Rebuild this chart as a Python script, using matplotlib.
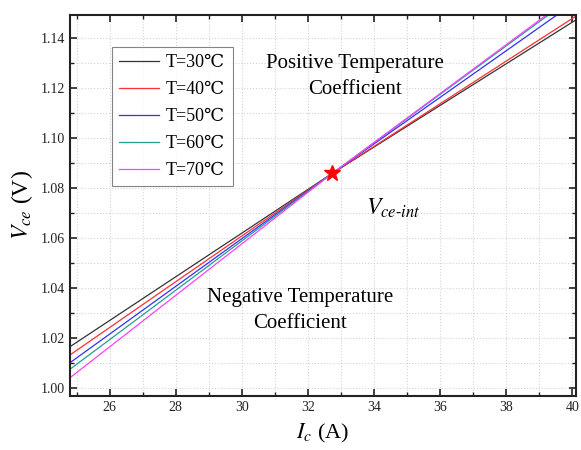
import matplotlib
matplotlib.use("Agg")
import matplotlib.pyplot as plt
from matplotlib.ticker import MultipleLocator

plt.rcParams['font.family'] = ['Liberation Serif', 'DejaVu Serif']
plt.rcParams['mathtext.fontset'] = 'stix'

# collector current (A) and Vce (V)
ic = [24.8, 32.74, 40.1]
vce_30 = [1.0165, 1.0858, 1.1470]
vce_40 = [1.0132, 1.0858, 1.1485]
vce_50 = [1.0101, 1.0858, 1.1543]
vce_60 = [1.0075, 1.0858, 1.1570]
vce_70 = [1.0041, 1.0858, 1.1577]

labels = ['T=30℃', 'T=40℃', 'T=50℃', 'T=60℃', 'T=70℃']
colors = ['#333333', '#ff3030', '#3030ff', '#20a090', '#ff40ff']

ic_int = 32.74
vce_int = 1.0858

fig = plt.figure(figsize=(5.81, 4.5), dpi=100)
ax = fig.add_axes([0.1205, 0.12, 0.8705, 0.8467])

for v, lab, c in zip([vce_30, vce_40, vce_50, vce_60, vce_70], labels, colors):
    ax.plot(ic, v, color=c, lw=0.9, label=lab)

ax.plot(ic_int, vce_int, marker='*', color='red', markersize=12, zorder=5)

ax.set_xlim(24.8, 40.1)
ax.set_ylim(0.9968, 1.149)
ax.xaxis.set_major_locator(MultipleLocator(2))
ax.xaxis.set_minor_locator(MultipleLocator(1))
ax.yaxis.set_major_locator(MultipleLocator(0.02))
ax.yaxis.set_minor_locator(MultipleLocator(0.01))
ax.yaxis.set_major_formatter(plt.FormatStrFormatter('%.2f'))

ax.grid(which='both', color='#d4d4d4', ls=':', lw=0.8)
ax.tick_params(which='both', direction='in', top=True, right=True,
               labelsize=10, colors='#222222')
ax.tick_params(which='major', length=5, width=1.2)
ax.tick_params(which='minor', length=3, width=1.0)
for s in ax.spines.values():
    s.set_linewidth(1.5)
    s.set_color('#222222')

ax.set_xlabel(r'$I_c$ (A)', fontsize=16, labelpad=6)
ax.set_ylabel(r'$V_{ce}$ (V)', fontsize=17, labelpad=4)

ax.text(33.41, 1.1243, 'Positive Temperature\nCoefficient', fontsize=15,
        ha='center', va='center', linespacing=1.5)
ax.text(31.75, 1.0311, 'Negative Temperature\nCoefficient', fontsize=15,
        ha='center', va='center', linespacing=1.5)
ax.text(34.59, 1.0718, r'$V_{ce\text{-}int}$', fontsize=17, ha='center', va='center')

leg = ax.legend(loc='upper left', bbox_to_anchor=(0.083, 0.916), fontsize=13,
                handlelength=2.2, handletextpad=0.4, frameon=True, fancybox=False,
                edgecolor='#666666', borderpad=0.4, labelspacing=0.55,
                borderaxespad=0)
leg.get_frame().set_linewidth(0.8)

fig.savefig('out.png', dpi=100)
